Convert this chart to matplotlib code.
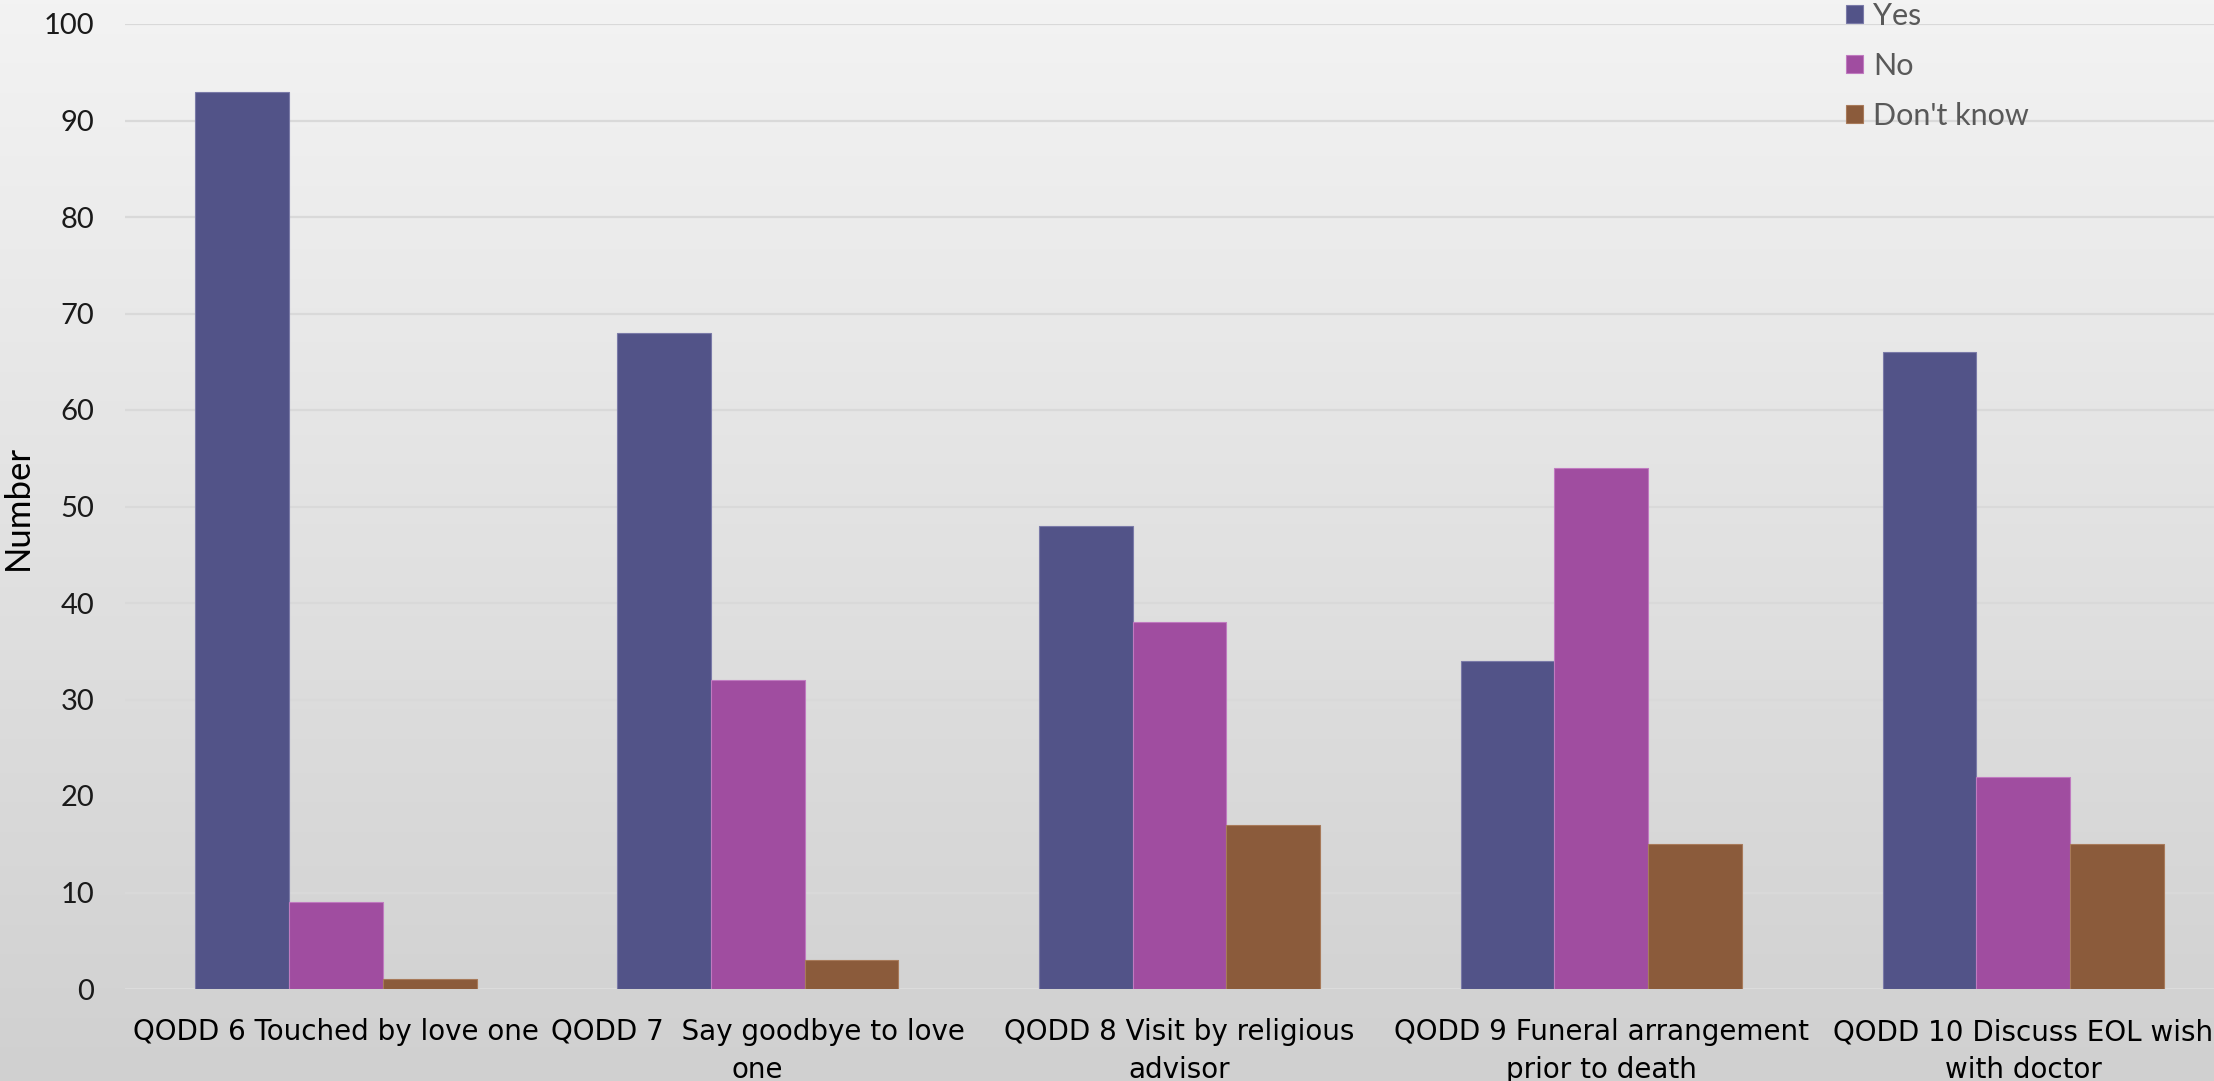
import numpy as np
import matplotlib
matplotlib.use("Agg")
import matplotlib.pyplot as plt

# Survey responses per QODD item
categories = [
    "QODD 6 Touched by love one",
    "QODD 7  Say goodbye to love\none",
    "QODD 8 Visit by religious\nadvisor",
    "QODD 9 Funeral arrangement\nprior to death",
    "QODD 10 Discuss EOL wish\nwith doctor",
]
yes_counts = [93, 68, 48, 34, 66]
no_counts = [9, 32, 38, 54, 22]
dont_know_counts = [1, 3, 17, 15, 15]
series_names = ["Yes", "No", "Don't know"]
y_ticks = [0, 10, 20, 30, 40, 50, 60, 70, 80, 90, 100]

colors = ["#525388", "#A04DA0", "#8B5B3B"]
edges = ["#7a7aa8", "#c07ac0", "#a87a5a"]

W, H = 2214, 1081
fig = plt.figure(figsize=(W / 100, H / 100), dpi=100)

# vertical grey gradient behind everything
bg = fig.add_axes([0, 0, 1, 1], zorder=-10)
grad = np.linspace(243, 208, 256) / 255.0
img = np.repeat(grad[:, None], 2, axis=1)
bg.imshow(np.dstack([img, img, img]), aspect="auto", extent=[0, 1, 0, 1],
          origin="upper")
bg.set_axis_off()

left, right = 125 / W, 2234 / W
bottom, top = (H - 989) / H, (H - 24) / H
ax = fig.add_axes([left, bottom, right - left, top - bottom])
ax.patch.set_alpha(0)

x = np.arange(len(categories))
bw = 2 / 3 / 3
handles = []
for i, (vals, name) in enumerate(zip([yes_counts, no_counts, dont_know_counts],
                                     series_names)):
    b = ax.bar(x + (i - 1) * bw, vals, bw, color=colors[i], edgecolor=edges[i],
               linewidth=0.8, label=name, zorder=3)
    handles.append(b)

ax.set_xlim(-0.5, len(categories) - 0.5)
ax.set_ylim(0, 100)
ax.set_yticks(y_ticks)
ax.yaxis.grid(True, color="#d9d9d9", linewidth=1.6, zorder=0)
ax.set_axisbelow(True)
for s in ax.spines.values():
    s.set_visible(False)
ax.axhline(0, color="#dcdcdc", linewidth=1.6, zorder=1)

ax.tick_params(axis="y", length=0, pad=22, labelsize=21, labelcolor="#1a1a1a")
for t in ax.get_yticklabels():
    t.set_fontfamily("Lato")
ax.set_xticks(x)
ax.set_xticklabels(categories, fontsize=20, fontfamily="DejaVu Sans",
                   linespacing=1.45)
ax.tick_params(axis="x", length=0, pad=21, labelcolor="#000000")

fig.text(18 / W, 1 - 507 / H, "Number", rotation=90, fontsize=25,
         fontfamily="Lato", ha="center", va="center", color="#000000")

leg = fig.legend(handles=handles, labels=series_names, loc="upper left",
                 bbox_to_anchor=(1846 / W, 1 - 2 / H), frameon=False,
                 handlelength=0.55, handleheight=0.55,
                 handletextpad=0.35, labelspacing=0.72, borderpad=0,
                 borderaxespad=0, prop={"family": "Lato", "size": 22})
for t in leg.get_texts():
    t.set_color("#595959")

fig.savefig("out.png", dpi=100)
